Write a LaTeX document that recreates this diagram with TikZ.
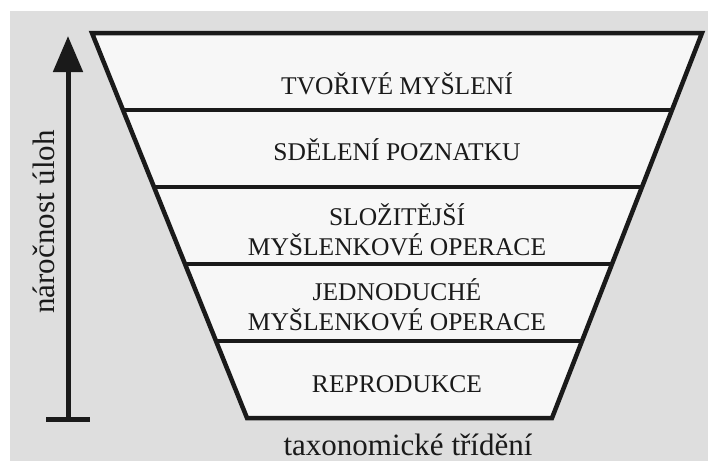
\documentclass[tikz,border=0pt]{standalone}
\usepackage{fontspec}
\setmainfont{Liberation Serif}
\usetikzlibrary{arrows.meta,calc}
\definecolor{paper}{HTML}{DEDEDE}
\definecolor{inner}{HTML}{F7F7F7}
\definecolor{ink}{HTML}{1A1A1A}
\begin{document}
\begin{tikzpicture}[x=1pt,y=-1pt,
  level/.style={font=\fontsize{25.5}{30}\selectfont,align=center,text=ink,inner sep=0pt},
  caption/.style={font=\fontsize{31}{34}\selectfont,text=ink,inner sep=0pt},
  edge/.style={line width=4.5pt,draw=ink,line join=miter}]
 \useasboundingbox (0,0) rectangle (710,461);
 \fill[white] (0,0) rectangle (710,461);
 \fill[paper] (10,11) rectangle (708,461);
 \coordinate (tl) at (92,33);  \coordinate (tr) at (702,33);
 \coordinate (bl) at (247,418); \coordinate (br) at (552,418);
 \filldraw[edge,fill=inner] (tl) -- (tr) -- (br) -- (bl) -- cycle;
 \foreach \t in {0.2,0.4,0.6,0.8}
  \draw[line width=4pt,draw=ink] ($(tl)!\t!(bl)$) -- ($(tr)!\t!(br)$);
 \node[level] (tvor) at (397,84) {TVOŘIVÉ MYŠLENÍ};
 \node[level] (sdel) at (397,150) {SDĚLENÍ POZNATKU};
 \node[level] (sloz) at (397,230) {SLOŽITĚJŠÍ\\MYŠLENKOVÉ OPERACE};
 \node[level] (jedn) at (397,305) {JEDNODUCHÉ\\MYŠLENKOVÉ OPERACE};
 \node[level] (repr) at (397,384) {REPRODUKCE};
 \coordinate (axb) at (68,419); \coordinate (axt) at (68,36);
 \draw[line width=5pt,draw=ink,-{Triangle[length=36pt,width=29pt]}] (axb) -- (axt);
 \draw[line width=5pt,draw=ink] ([xshift=-22pt]axb) -- ([xshift=22pt]axb);
 \node[caption,rotate=90] (naro) at (44,222) {náročnost úloh};
 \node[caption] (taxo) at (408,445) {taxonomické třídění};
\end{tikzpicture}
\end{document}
